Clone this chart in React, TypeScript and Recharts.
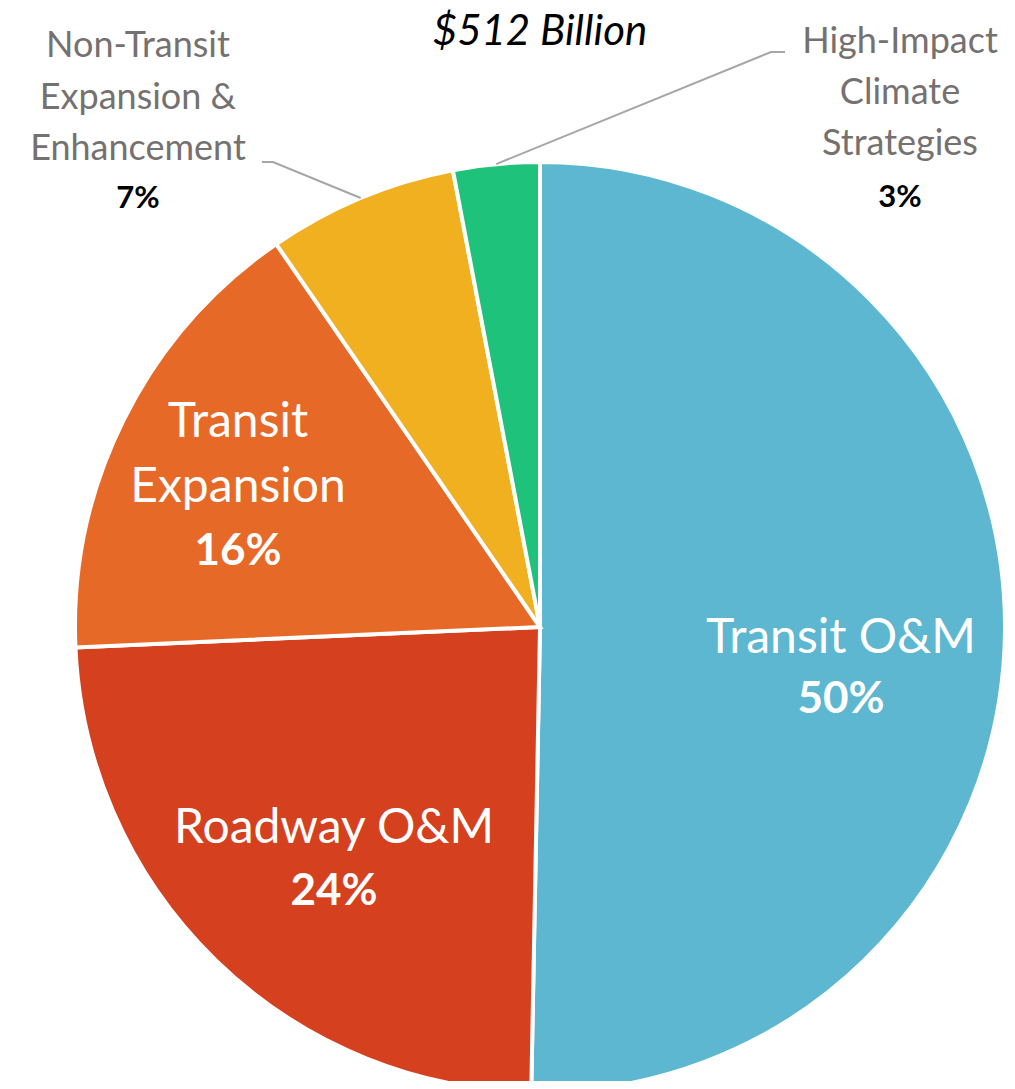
import { PieChart, Pie, Cell } from "recharts"

const categories = [
  "Transit O&M",
  "Roadway O&M",
  "Transit Expansion",
  "Non-Transit Expansion & Enhancement",
  "High-Impact Climate Strategies",
]
const shares = [50.3, 24.0, 16.1, 6.6, 3.0]
const labelLines = [
  ["Transit O&M"],
  ["Roadway O&M"],
  ["Transit", "Expansion"],
  ["Non-Transit", "Expansion &", "Enhancement"],
  ["High-Impact", "Climate", "Strategies"],
]
const totalLabel = "$512 Billion"

const colors = ["#5db7d0", "#d5401f", "#e76927", "#f1b020", "#1fc27a"]
const FONT = "Lato, 'Open Sans', sans-serif"
const RADIAN = Math.PI / 180

// label placement relative to the pie centre (text block centre x, first baseline y)
const layout = [
  { inside: true, dx: 301, dy: 26, lh: 60, pctGap: 60 },
  { inside: true, dx: -206, dy: 216, lh: 62, pctGap: 62 },
  { inside: true, dx: -302, dy: -190, lh: 65, pctGap: 63 },
  { inside: false, dx: -402, dy: -570, lh: 51.5, pctGap: 48, elbow: [-267, -465], end: [-278, -465] },
  { inside: false, dx: 360, dy: -574, lh: 51, pctGap: 52, elbow: [231, -575], end: [245, -575] },
]

const data = categories.map((name, i) => ({ name, value: shares[i] }))

function renderLabel(props: any) {
  const { cx, cy, midAngle, outerRadius, index, percent } = props
  const l = layout[index]
  const lines = labelLines[index]
  const pct = `${Math.round(percent * 100)}%`
  const x = cx + l.dx
  const y0 = cy + l.dy
  const pctY = y0 + l.lh * (lines.length - 1) + l.pctGap
  if (l.inside) {
    return (
      <g key={`lbl-${index}`}>
        {lines.map((t, k) => (
          <text key={k} x={x} y={y0 + k * l.lh} textAnchor="middle" fill="#ffffff" fontFamily={FONT} fontSize={48}>
            {t}
          </text>
        ))}
        <text x={x} y={pctY} textAnchor="middle" fill="#ffffff" fontFamily={FONT} fontSize={44} fontWeight={700}>
          {pct}
        </text>
      </g>
    )
  }
  const sx = cx + outerRadius * Math.cos(-midAngle * RADIAN)
  const sy = cy + outerRadius * Math.sin(-midAngle * RADIAN)
  const ex = cx + l.elbow![0]
  const ey = cy + l.elbow![1]
  const tx = cx + l.end![0]
  return (
    <g key={`lbl-${index}`}>
      <polyline points={`${sx},${sy} ${ex},${ey} ${tx},${ey}`} fill="none" stroke="#a6a6a6" strokeWidth={2} />
      {lines.map((t, k) => (
        <text key={k} x={x} y={y0 + k * l.lh} textAnchor="middle" fill="#767171" fontFamily={FONT} fontSize={36}>
          {t}
        </text>
      ))}
      <text x={x} y={pctY} textAnchor="middle" fill="#000000" fontFamily={FONT} fontSize={31} fontWeight={700}>
        {pct}
      </text>
    </g>
  )
}

export default function App() {
  return (
    <div style={{ margin: -8, width: 1015, height: 1089, background: "#ffffff" }}>
      <PieChart width={1015} height={1089} margin={{ top: 0, right: 0, bottom: 0, left: 0 }}>
        <text x={540} y={45} textAnchor="middle" fill="#000000" fontFamily={FONT} fontSize={42} fontStyle="italic">
          {totalLabel}
        </text>
        <Pie
          data={data}
          dataKey="value"
          nameKey="name"
          cx={540}
          cy={627}
          outerRadius={465}
          startAngle={90}
          endAngle={-270}
          stroke="#ffffff"
          strokeWidth={4}
          label={renderLabel}
          labelLine={false}
          isAnimationActive={false}
        >
          {data.map((d, i) => (
            <Cell key={d.name} fill={colors[i]} />
          ))}
        </Pie>
      </PieChart>
    </div>
  )
}
